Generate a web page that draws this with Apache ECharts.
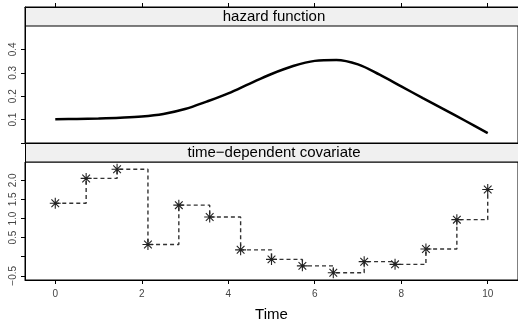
<!DOCTYPE html>
<html><head><meta charset="utf-8">
<script src="https://cdn.jsdelivr.net/npm/echarts@6/dist/echarts.min.js"></script>
<style>html,body{margin:0;padding:0;background:#fff}#c{width:518px;height:329px}</style>
</head><body><div id="c"></div>
<script>
// hazard function (smooth curve)
const hazardTime  = [0, 0.5, 1, 1.5, 2, 2.5, 3, 3.5, 4, 4.5, 5, 5.5, 6, 6.5, 7, 7.5, 8, 8.5, 9, 9.5, 10];
const hazardValue = [0.102, 0.103, 0.105, 0.108, 0.113, 0.124, 0.145, 0.177, 0.212, 0.254, 0.295, 0.329, 0.351, 0.355, 0.336, 0.292, 0.242, 0.192, 0.143, 0.093, 0.042];
// time-dependent covariate (step function)
const covTime  = [0, 0.714, 1.429, 2.143, 2.857, 3.571, 4.286, 5.0, 5.714, 6.429, 7.143, 7.857, 8.571, 9.286, 10];
const covValue = [1.40, 2.05, 2.29, 0.32, 1.35, 1.04, 0.18, -0.07, -0.24, -0.42, -0.13, -0.20, 0.20, 0.97, 1.76];
// ticks and labels
const xTicks = [0, 2, 4, 6, 8, 10];
const hazardTicks = [0, 0.1, 0.2, 0.3, 0.4];
const covTicks = [-0.5, 0, 0.5, 1, 1.5, 2];
const stripLabels = ['hazard function', 'time\u2212dependent covariate'];
const xLabel = 'Time';

const FONT = "'Liberation Sans', Arial, Helvetica, sans-serif";
const L = 25, W = 498;
const STRIP = 19;
const TOP_PLOT = 117;
const fmt = v => v === 0 ? '' : (v < 0 ? '\u2212' : '') + Math.abs(v).toFixed(1);

const chart = echarts.init(document.getElementById('c'), null, {renderer: 'canvas'});
const axisLine = {show: true, onZero: false, lineStyle: {color: '#000', width: 1}};
const tick = vals => ({show: true, length: 4, customValues: vals, lineStyle: {color: '#000'}});
chart.setOption({
  animation: false,
  backgroundColor: '#fff',
  textStyle: {fontFamily: FONT},
  grid: [
    // top panel grid includes its strip (strip drawn over the upper 19px)
    {left: L, width: W, top: 7, height: TOP_PLOT + STRIP, show: true, borderColor: '#000', borderWidth: 1},
    {left: L, width: W, top: 162, height: 118, show: true, borderColor: '#000', borderWidth: 1}
  ],
  xAxis: [
    {
      type: 'value', gridIndex: 0, min: -0.7, max: 10.7, position: 'top',
      splitLine: {show: false}, axisLine: axisLine,
      axisTick: tick(xTicks),
      axisLabel: {show: false}
    },
    {
      type: 'value', gridIndex: 1, min: -0.7, max: 10.7, position: 'bottom',
      splitLine: {show: false}, axisLine: axisLine,
      axisTick: tick(xTicks),
      axisLabel: {customValues: xTicks, fontSize: 10, color: '#444', margin: 9, fontFamily: FONT},
      name: xLabel, nameLocation: 'middle', nameGap: 27,
      nameTextStyle: {fontSize: 15, color: '#000', fontFamily: FONT}
    }
  ],
  yAxis: [
    {
      type: 'value', gridIndex: 0, min: 0, max: 0.5 * (TOP_PLOT + STRIP) / TOP_PLOT,
      splitLine: {show: false}, axisLine: axisLine,
      axisTick: tick(hazardTicks),
      axisLabel: {customValues: hazardTicks, formatter: fmt, rotate: 90, fontSize: 10, color: '#444', margin: 7, fontFamily: FONT}
    },
    {
      type: 'value', gridIndex: 1, min: -0.61, max: 2.48,
      splitLine: {show: false}, axisLine: axisLine,
      axisTick: tick(covTicks),
      axisLabel: {customValues: covTicks, formatter: fmt, rotate: 90, fontSize: 10, color: '#444', margin: 7, fontFamily: FONT}
    }
  ],
  graphic: [
    {type: 'rect', shape: {x: L + 0.5, y: 7.5, width: W, height: 18.5}, style: {fill: '#f0f0f0', stroke: '#000', lineWidth: 1}, z: 10},
    {type: 'text', x: L + W / 2, y: 17, style: {text: stripLabels[0], fill: '#000', font: '15px ' + FONT, textAlign: 'center', textVerticalAlign: 'middle'}, z: 11},
    {type: 'rect', shape: {x: L + 0.5, y: 143.5, width: W, height: 18.5}, style: {fill: '#f0f0f0', stroke: '#000', lineWidth: 1}, z: 10},
    {type: 'text', x: L + W / 2, y: 153, style: {text: stripLabels[1], fill: '#000', font: '15px ' + FONT, textAlign: 'center', textVerticalAlign: 'middle'}, z: 11}
  ],
  series: [
    {
      type: 'line', xAxisIndex: 0, yAxisIndex: 0, smooth: 0.35, showSymbol: false,
      data: hazardTime.map((t, i) => [t, hazardValue[i]]),
      lineStyle: {color: '#000', width: 2.5}
    },
    {
      type: 'line', xAxisIndex: 1, yAxisIndex: 1, step: 'end',
      data: covTime.map((t, i) => [t, covValue[i]]),
      symbol: 'path://M5,0 L5,10 M0,5 L10,5 M1.5,1.5 L8.5,8.5 M1.5,8.5 L8.5,1.5',
      symbolSize: 11, showAllSymbol: true,
      lineStyle: {color: '#333', width: 1.4, type: [4, 3]},
      itemStyle: {color: 'rgba(0,0,0,0)', borderColor: '#222', borderWidth: 1.1}
    }
  ]
});
</script>
</body></html>
